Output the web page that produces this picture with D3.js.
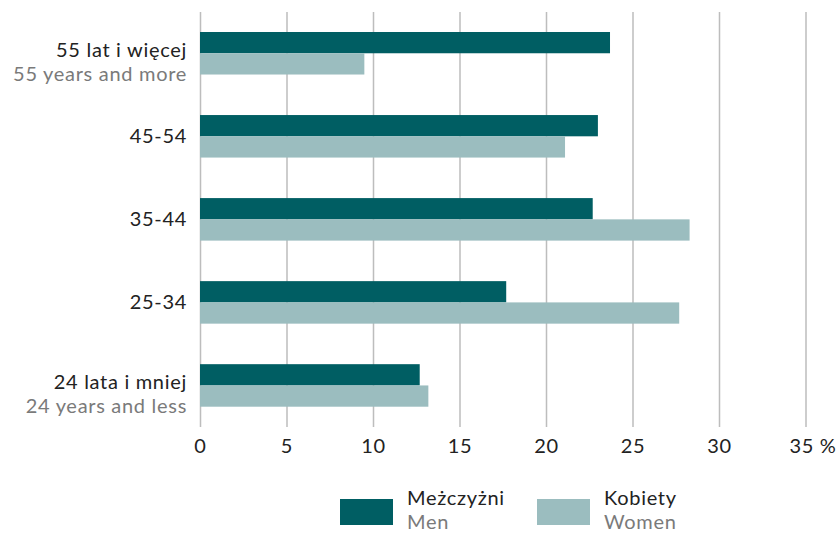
<!DOCTYPE html>
<html>
<head>
<meta charset="utf-8">
<script src="https://cdn.jsdelivr.net/npm/d3@7"></script>
<style>
  body { margin: 0; background: #fff; }
  svg text { font-family: Lato, "Open Sans", sans-serif; letter-spacing: 0.7px; }
</style>
</head>
<body>
<div id="chart"></div>
<script>
// age groups, top to bottom
const groupsPl = ["55 lat i więcej", "45-54", "35-44", "25-34", "24 lata i mniej"];
const groupsEn = ["55 years and more", "", "", "", "24 years and less"];
const seriesPl = ["Meżczyżni", "Kobiety"];
const seriesEn = ["Men", "Women"];
const menValues = [23.7, 23.0, 22.7, 17.7, 12.7];
const womenValues = [9.5, 21.1, 28.3, 27.7, 13.2];
const xTicks = [0, 5, 10, 15, 20, 25, 30, 35];

const colors = ["#005e63", "#9bbdbf"];

const width = 836, height = 533;
const plot = { left: 200, right: 805.5, top: 12, bottom: 427, barTop: 32, barBottom: 406.7 };
const fontSize = 20;

const svg = d3.select("#chart")
  .append("svg")
  .attr("width", width)
  .attr("height", height);

const x = d3.scaleLinear().domain([0, 35]).range([plot.left, plot.right]);

const y = d3.scaleBand()
  .domain(groupsPl)
  .range([plot.barTop, plot.barBottom])
  .paddingInner(0.488)
  .paddingOuter(0);

const ySub = d3.scaleBand()
  .domain(seriesPl)
  .range([0, y.bandwidth()]);

// grid lines + tick labels
const xAxis = svg.append("g")
  .attr("transform", `translate(0,${plot.bottom})`)
  .call(
    d3.axisBottom(x)
      .tickValues(xTicks)
      .tickSize(-(plot.bottom - plot.top))
      .tickPadding(12)
      .tickFormat((d) => (d === 35 ? "35 %" : d))
  );
xAxis.select(".domain").remove();
xAxis.selectAll(".tick line").attr("stroke", "#bdbdbd").attr("stroke-width", 1.5);
xAxis.selectAll(".tick text")
  .attr("font-size", fontSize)
  .attr("fill", "#222")
  .attr("dx", (d) => (d === 35 ? 7 : 0));

// bars
const data = groupsPl.map((g, i) => ({
  group: g,
  values: [
    { series: seriesPl[0], value: menValues[i] },
    { series: seriesPl[1], value: womenValues[i] },
  ],
}));

svg.selectAll("g.group")
  .data(data)
  .join("g")
  .attr("class", "group")
  .attr("transform", (d) => `translate(0,${y(d.group)})`)
  .selectAll("rect")
  .data((d) => d.values)
  .join("rect")
  .attr("x", x(0))
  .attr("y", (d) => ySub(d.series))
  .attr("width", (d) => x(d.value) - x(0))
  .attr("height", ySub.bandwidth())
  .attr("fill", (d, i) => colors[i]);

// category labels
const labels = svg.selectAll("g.ylabel")
  .data(groupsPl)
  .join("g")
  .attr("class", "ylabel")
  .attr("transform", (d) => `translate(${plot.left - 13},${y(d) + y.bandwidth() / 2})`);

labels.append("text")
  .attr("text-anchor", "end")
  .attr("font-size", fontSize)
  .attr("fill", "#222")
  .attr("y", (d, i) => (groupsEn[i] ? 3.5 : 7))
  .text((d) => d);

labels.append("text")
  .attr("text-anchor", "end")
  .attr("font-size", fontSize)
  .attr("fill", "#7a7a7a")
  .attr("y", 28)
  .text((d, i) => groupsEn[i]);

// legend
const legend = svg.append("g").attr("transform", "translate(340,499)");
const items = legend.selectAll("g")
  .data(seriesPl)
  .join("g")
  .attr("transform", (d, i) => `translate(${i * 197},0)`);

items.append("rect")
  .attr("width", 53)
  .attr("height", 26)
  .attr("fill", (d, i) => colors[i]);

items.append("text")
  .attr("x", 67)
  .attr("y", 6)
  .attr("font-size", fontSize)
  .attr("fill", "#222")
  .text((d) => d);

items.append("text")
  .attr("x", 67)
  .attr("y", 30)
  .attr("font-size", fontSize)
  .attr("fill", "#7a7a7a")
  .text((d, i) => seriesEn[i]);
</script>
</body>
</html>
